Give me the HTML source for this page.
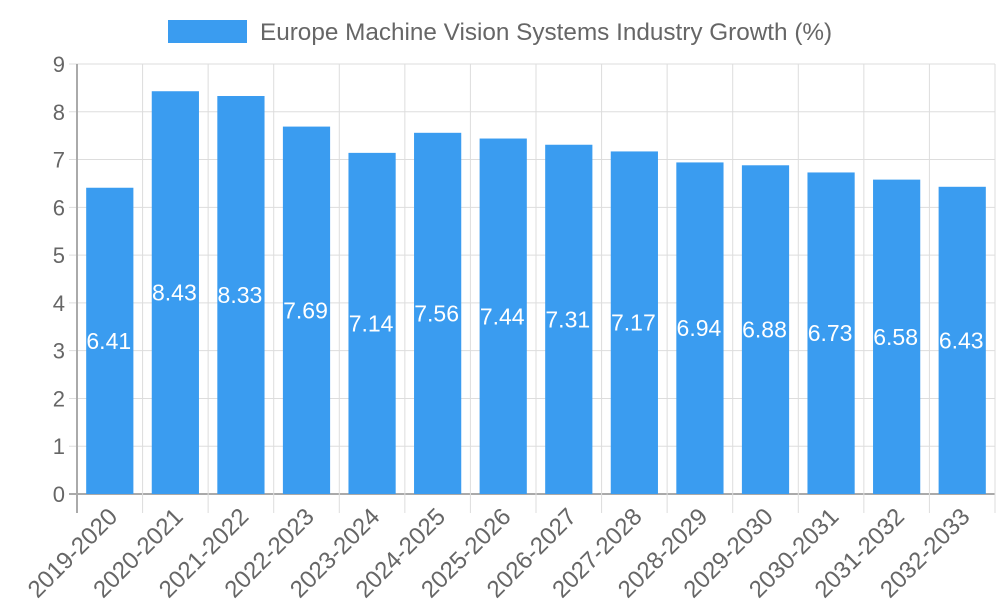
<!DOCTYPE html>
<html><head><meta charset="utf-8"><style>
body{margin:0;background:#fff;}
svg{display:block;font-family:"Liberation Sans",sans-serif;}
</style></head><body>
<svg id="chart" width="1000" height="600">
<g>
<rect x="168" y="20" width="79" height="23" fill="#3a9cf0"></rect>
<text x="260" y="40" font-size="24.3" fill="#666">Europe Machine Vision Systems Industry Growth (%)</text>
</g>
<g id="grid"></g>
<g id="bars"></g>
<g id="xlabels"></g>
<g id="ylabels"></g>
</svg>
<script>
const categories=["2019-2020","2020-2021","2021-2022","2022-2023","2023-2024","2024-2025","2025-2026","2026-2027","2027-2028","2028-2029","2029-2030","2030-2031","2031-2032","2032-2033"];
const values=[6.41,8.43,8.33,7.69,7.14,7.56,7.44,7.31,7.17,6.94,6.88,6.73,6.58,6.43];
const yTicks=[0,1,2,3,4,5,6,7,8,9];
const NS="http://www.w3.org/2000/svg";
const L=77,R=995,T=64,B=494,yMax=9;
const bw=(R-L)/categories.length;
const y=v=>B-(v/yMax)*(B-T);
const xc=i=>L+bw*(i+0.5);
function mk(tag,attrs,parent){const e=document.createElementNS(NS,tag);for(const k in attrs)e.setAttribute(k,attrs[k]);parent.appendChild(e);return e;}
const grid=document.getElementById('grid'),bars=document.getElementById('bars'),xl=document.getElementById('xlabels'),yl=document.getElementById('ylabels');
yTicks.forEach(t=>{
 const l=mk('line',{x1:L-8,x2:R,y1:y(t),y2:y(t),stroke:t===0?'#aaa':'#ddd','stroke-width':t===0?2:1},grid);
 
 
 const tx=mk('text',{x:L-12,y:y(t)+8,'text-anchor':'end','font-size':22,fill:'#666'},yl);
 tx.textContent=t;
 
 
});
for(let i=0;i<=categories.length;i++){
 const x=L+bw*i;
 const l=mk('line',{x1:x,x2:x,y1:T,y2:B+19,stroke:i===0?'#aaa':'#ddd','stroke-width':i===0?2:1},grid);
 
 
}
categories.forEach((c,i)=>{
 const v=values[i],w=bw*0.72;
 const r=mk('rect',{x:xc(i)-w/2,y:y(v),width:w,height:B-y(v),fill:'#3a9cf0'},bars);
 
 
 const t=mk('text',{x:xc(i)-1,y:(y(v)+B)/2+8,'text-anchor':'middle','font-size':23,fill:'#fff'},bars);
 t.textContent=v.toFixed(2);
 
 
 const ax=xc(i)+9,ay=B+24;
 const xt=mk('text',{x:ax,y:ay,'text-anchor':'end','font-size':24,fill:'#666',transform:`rotate(-45 ${ax} ${ay})`},xl);
 xt.textContent=c;
 
 
});
</script>
</body></html>
